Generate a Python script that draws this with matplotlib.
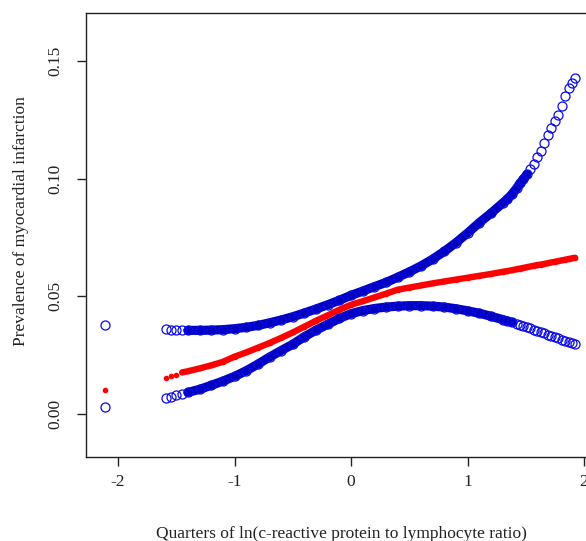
import matplotlib
matplotlib.use("Agg")
import matplotlib.pyplot as plt

# Shared x positions (quarters of ln(CRP/lymphocyte ratio))
x = [-2.11, -1.59, -1.545, -1.50, -1.45, -1.40, -1.30, -1.20, -1.10, -1.00,
     -0.90, -0.80, -0.70, -0.60, -0.50, -0.40, -0.30, -0.20, -0.10, 0.00,
     0.10, 0.20, 0.30, 0.40, 0.50, 0.60, 0.70, 0.80, 0.90, 1.00,
     1.10, 1.20, 1.30, 1.34, 1.38, 1.42, 1.45, 1.48, 1.51, 1.54,
     1.57, 1.60, 1.63, 1.66, 1.69, 1.72, 1.75, 1.78, 1.81, 1.84,
     1.87, 1.90, 1.923]

upper = [0.0375, 0.0358, 0.0357, 0.0356, 0.0355, 0.0354, 0.0354, 0.0355, 0.0357, 0.0361,
         0.0367, 0.0375, 0.0386, 0.0398, 0.0412, 0.0428, 0.0445, 0.0463, 0.0482, 0.0503,
         0.0521, 0.0540, 0.0558, 0.0580, 0.0603, 0.0628, 0.0657, 0.0690, 0.0727, 0.0768,
         0.0812, 0.0852, 0.0895, 0.0912, 0.0933, 0.0958, 0.0980, 0.0998, 0.1018, 0.1040,
         0.1064, 0.1090, 0.1118, 0.1150, 0.1185, 0.1215, 0.1243, 0.1272, 0.1310, 0.1350,
         0.1385, 0.1405, 0.1430]

estimate = [0.0100, 0.0153, 0.0158, 0.0164, 0.0175, 0.0180, 0.0192, 0.0205, 0.0220, 0.0242,
            0.0260, 0.0280, 0.0300, 0.0322, 0.0345, 0.0370, 0.0395, 0.0418, 0.0442, 0.0463,
            0.0478, 0.0494, 0.0510, 0.0527, 0.0536, 0.0545, 0.0554, 0.0562, 0.0570, 0.0578,
            0.0586, 0.0594, 0.0603, 0.0606, 0.0610, 0.0614, 0.0617, 0.0620, 0.0623, 0.0626,
            0.0629, 0.0632, 0.0634, 0.0637, 0.0640, 0.0643, 0.0646, 0.0649, 0.0652, 0.0655,
            0.0658, 0.0661, 0.0663]

lower = [0.0027, 0.0068, 0.0072, 0.0077, 0.0083, 0.0090, 0.0103, 0.0120, 0.0138, 0.0158,
         0.0182, 0.0210, 0.0240, 0.0268, 0.0295, 0.0327, 0.0355, 0.0380, 0.0405, 0.0425,
         0.0438, 0.0447, 0.0453, 0.0457, 0.0459, 0.0459, 0.0457, 0.0453, 0.0446, 0.0437,
         0.0427, 0.0414, 0.0400, 0.0394, 0.0388, 0.0382, 0.0378, 0.0373, 0.0368, 0.0362,
         0.0357, 0.0351, 0.0346, 0.0341, 0.0336, 0.0331, 0.0325, 0.0320, 0.0315, 0.0310,
         0.0305, 0.0300, 0.0296]

x_ticks = [-2, -1, 0, 1, 2]
y_ticks = [0.00, 0.05, 0.10, 0.15]
y_ticklabels = ["0.00", "0.05", "0.10", "0.15"]

plt.rcParams['font.family'] = ['Liberation Serif', 'DejaVu Serif']

fig = plt.figure(figsize=(5.86, 5.41), dpi=100)
ax = fig.add_axes([0.1468, 0.1553, 0.8686, 0.8212])

blue_fill = '#0000C0'
blue_edge = '#0A0AE6'
red = '#FF0000'

# dense cores of the point clouds (heavily overlapping markers)
up_core = slice(x.index(-1.40), x.index(1.51) + 1)
lo_core = slice(x.index(-1.40), x.index(1.38) + 1)
est_core = slice(x.index(-1.45), len(x))
ax.plot(x[up_core], upper[up_core], color=blue_fill, lw=6.6, solid_capstyle='round', zorder=1)
ax.plot(x[lo_core], lower[lo_core], color=blue_fill, lw=6.6, solid_capstyle='round', zorder=1)
ax.plot(x[est_core], estimate[est_core], color=red, lw=4.6, solid_capstyle='round', zorder=2)

ax.plot(x, upper, linestyle='none', marker='o', ms=6.5, mfc='none', mec=blue_edge, mew=0.9, zorder=3)
ax.plot(x, lower, linestyle='none', marker='o', ms=6.5, mfc='none', mec=blue_edge, mew=0.9, zorder=3)
ax.plot(x, estimate, linestyle='none', marker='o', ms=4, mfc=red, mec=red, mew=0, zorder=4)

ax.set_xlim(-2.275, 2.094)
ax.set_ylim(-0.0185, 0.1706)
ax.set_xticks(x_ticks)
ax.set_xticklabels([str(t) for t in x_ticks])
ax.set_yticks(y_ticks)
ax.set_yticklabels(y_ticklabels, rotation=90, va='center')

for s in ax.spines.values():
    s.set_color('#222222')
    s.set_linewidth(1.0)
ax.tick_params(axis='both', direction='out', length=6.5, width=1.0, color='#222222',
               labelsize=12.5, labelcolor='#222222')
ax.tick_params(axis='x', pad=6)
ax.tick_params(axis='y', pad=9.5)

ax.set_xlabel('Quarters of ln(c-reactive protein to lymphocyte ratio)', fontsize=12.5, color='#222222')
ax.set_ylabel('Prevalence of myocardial infarction', fontsize=12.5, color='#222222')
W = 595 - 86
H = 457 - 12.7
ax.xaxis.set_label_coords((341.5 - 86) / W, (457 - 526) / H)
ax.yaxis.set_label_coords((29 - 86) / W, (457 - 221.5) / H)

fig.savefig('out.png', dpi=100)
